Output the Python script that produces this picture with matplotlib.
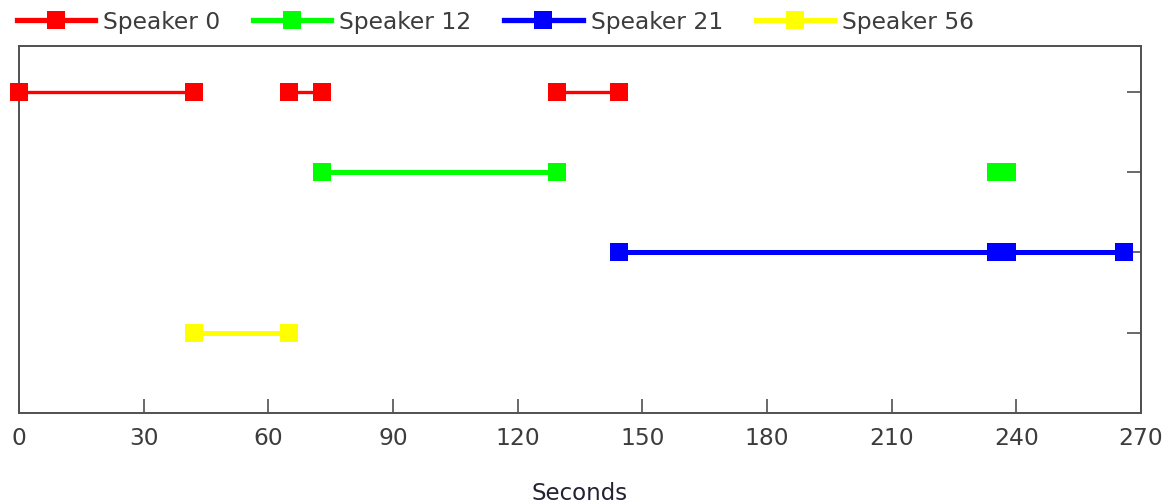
import matplotlib
matplotlib.use("Agg")
import matplotlib.pyplot as plt
from matplotlib.lines import Line2D

speakers = ["Speaker 0", "Speaker 12", "Speaker 21", "Speaker 56"]
colors = ["#ff0000", "#00ff00", "#0000ff", "#ffff00"]
levels = [4, 3, 2, 1]
seg_starts = [
    [0, 65, 129.5],
    [73, 235.2],
    [144.4, 235.2, 237.8],
    [42],
]
seg_ends = [
    [42, 73, 144.4],
    [129.5, 237.8],
    [235.2, 237.8, 266],
    [65],
]
line_widths = [2.4, 3.6, 3.6, 3.6]
xticks = [0, 30, 60, 90, 120, 150, 180, 210, 240, 270]

text_color = "#3c3c3c"
spine_color = "#505050"

fig = plt.figure(figsize=(11.72, 5.04), dpi=100)
ax = fig.add_axes([19 / 1172, 1 - 413 / 504, (1141 - 19) / 1172, (413 - 46) / 504])

for name, col, lvl, starts, ends, lw in zip(speakers, colors, levels, seg_starts, seg_ends, line_widths):
    for s, e in zip(starts, ends):
        ax.plot([s, e], [lvl, lvl], color=col, lw=lw, marker="s", markersize=13,
                markeredgewidth=0, clip_on=False, zorder=3)

ax.set_xlim(0, 270)
ax.set_ylim(0, 4.57)
ax.set_xticks(xticks)
ax.set_xticklabels([str(t) for t in xticks])
ax.set_yticks(levels)
ax.tick_params(axis="x", direction="in", length=10, width=1.2, color=spine_color,
               labelsize=16.8, labelcolor=text_color, pad=10, top=False)
ax.tick_params(axis="y", direction="in", length=10, width=1.2, color=spine_color,
               left=False, right=True, labelleft=False, labelright=False)
for sp in ax.spines.values():
    sp.set_color(spine_color)
    sp.set_linewidth(1.4)

ax.set_xlabel("Seconds", fontsize=16.5, color="#222233", labelpad=23)

handles = [Line2D([0], [0], color=c, lw=3.8, marker="s", markersize=13, markeredgewidth=0)
           for c in colors]
leg = fig.legend(handles, speakers, loc="center left", bbox_to_anchor=(17 / 1172, 1 - 22 / 504),
                 ncol=4, frameon=False, fontsize=16.8, handlelength=3.35, handletextpad=0.35,
                 columnspacing=1.4, borderpad=0, borderaxespad=0)
for t in leg.get_texts():
    t.set_color(text_color)

fig.savefig("out.png", dpi=100)
